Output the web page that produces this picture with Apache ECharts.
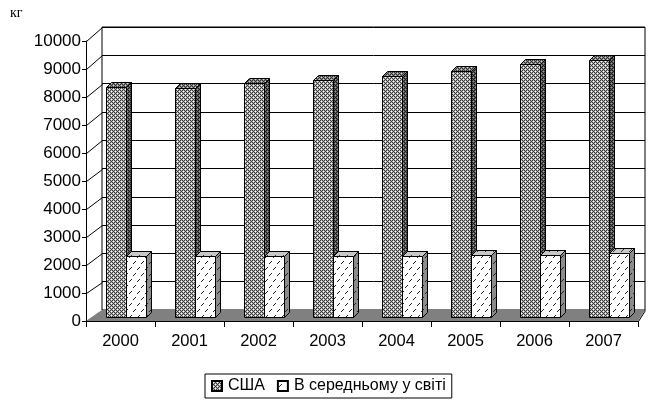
<!DOCTYPE html>
<html><head><meta charset="utf-8">
<script src="https://cdn.jsdelivr.net/npm/echarts@6/dist/echarts.min.js"></script>
<style>html,body{margin:0;padding:0;background:#fff}#c{width:648px;height:405px}</style>
</head><body><div id="c"></div>
<script>
// ---- data ----
const years = ['2000','2001','2002','2003','2004','2005','2006','2007'];
const usa   = [8200, 8170, 8370, 8480, 8590, 8800, 9050, 9180];
const world = [2190, 2190, 2190, 2190, 2190, 2200, 2230, 2270];
const seriesNames = ['США', 'В середньому у світі'];
const unitLabel = 'кг';
const yMin = 0, yMax = 10000, yStep = 1000;

// ---- patterns ----
function pat(w, h, draw) {
  const c = document.createElement('canvas'); c.width = w; c.height = h;
  const g = c.getContext('2d'); draw(g); return { image: c, repeat: 'repeat' };
}
function lattice(center, arm, dark) {
  return pat(4, 4, g => {
    g.fillStyle = dark; g.fillRect(0, 0, 4, 4);
    g.fillStyle = arm;
    [[0,1],[2,1],[1,0],[1,2],[2,3],[0,3],[3,2],[3,0]].forEach(p => g.fillRect(p[0], p[1], 1, 1));
    g.fillStyle = center; g.fillRect(1, 1, 1, 1); g.fillRect(3, 3, 1, 1);
  });
}
function slashes(bg, fg) {
  return pat(8, 12, g => {
    g.fillStyle = bg; g.fillRect(0, 0, 8, 12);
    g.fillStyle = fg;
    [[1,5],[2,4],[3,3],[5,11],[6,10],[7,9]].forEach(p => g.fillRect(p[0], p[1], 1, 1));
  });
}
const usaFront = lattice('#ffffff', '#b4b4b4', '#3a3a3a');
const usaSide  = lattice('#9a9a9a', '#606060', '#1a1a1a');
const usaTop   = lattice('#d0d0d0', '#8a8a8a', '#303030');
const wFront = slashes('#ffffff', '#222222');
const wSide  = slashes('#8c8c8c', '#222222');
const wTop   = slashes('#c8c8c8', '#333333');

// ---- layout ----
const FRONT = { left: 86, top: 41, right: 10, bottom: 84 };
const BACK  = { left: 102, top: 27, right: 3, bottom: 95 };

function barRenderer(side, fFront, fSide, fTop) {
  return function (params, api) {
    const x = api.value(0), v = api.value(1);
    const p0 = api.coord([x, 0]);
    const p1 = api.coord([x, v]);
    const band = api.size([1, 0])[0];
    const bw = Math.round(band * 0.29);
    const off = Math.round(band * 0.07), offy = -4;
    const ddx = 5, ddy = -5;
    const cx = Math.round(p0[0] + off) + 0.5;
    const xa = side < 0 ? cx - bw : cx, xb = xa + bw;
    const yb = Math.round(p0[1] + offy) + 0.5, yt = Math.round(p1[1] + offy) + 0.5;
    const st = (f) => ({ fill: f, stroke: '#000', lineWidth: 1 });
    return { type: 'group', children: [
      { type: 'polygon', shape: { points: [[xb, yt], [xb + ddx, yt + ddy], [xb + ddx, yb + ddy], [xb, yb]] }, style: st(fSide) },
      { type: 'polygon', shape: { points: [[xa, yt], [xb, yt], [xb + ddx, yt + ddy], [xa + ddx, yt + ddy]] }, style: st(fTop) },
      { type: 'polygon', shape: { points: [[xa, yt], [xb, yt], [xb, yb], [xa, yb]] }, style: st(fFront) }
    ]};
  };
}

const chart = echarts.init(document.getElementById('c'), null, { renderer: 'canvas' });
const font = 'Liberation Sans, Arial, sans-serif';
chart.setOption({
  animation: false,
  backgroundColor: '#fff',
  grid: [
    Object.assign({ containLabel: false }, FRONT),
    Object.assign({ containLabel: false, show: true, borderColor: '#000', borderWidth: 1, backgroundColor: 'transparent', z: 0 }, BACK)
  ],
  xAxis: [
    { type: 'category', data: years, gridIndex: 0, z: 5,
      axisLine: { show: true, lineStyle: { color: '#000', width: 1 } },
      axisTick: { show: true, length: 6, lineStyle: { color: '#000' } },
      axisLabel: { color: '#000', fontSize: 16.5, fontFamily: font, margin: 12 },
      splitLine: { show: false } },
    { type: 'value', gridIndex: 1, show: false, min: 0, max: 1 }
  ],
  yAxis: [
    { type: 'value', gridIndex: 0, min: yMin, max: yMax, interval: yStep, z: 5,
      axisLine: { show: true, lineStyle: { color: '#000', width: 1 } },
      axisTick: { show: true, length: 4, lineStyle: { color: '#000' } },
      axisLabel: { color: '#000', fontSize: 17, fontFamily: font, margin: 5, formatter: v => String(v) },
      splitLine: { show: false } },
    { type: 'value', gridIndex: 1, min: yMin, max: yMax, interval: yStep,
      axisLine: { show: false }, axisTick: { show: false }, axisLabel: { show: false },
      splitLine: { show: true, lineStyle: { color: '#000', width: 1 } } }
  ],
  legend: {
    data: seriesNames, bottom: 7, left: 205,
    borderColor: '#000', borderWidth: 1, padding: [4, 6, 4, 6],
    itemWidth: 10, itemHeight: 10, itemGap: 12,
    textStyle: { color: '#000', fontSize: 16, fontFamily: font, padding: [0, 0, 0, 1] },
    icon: 'rect'
  },
  series: [
    { name: seriesNames[0], type: 'custom', xAxisIndex: 0, yAxisIndex: 0, z: 3,
      itemStyle: { color: usaFront, borderColor: '#000', borderWidth: 1 },
      renderItem: barRenderer(-1, usaFront, usaSide, usaTop),
      encode: { x: 0, y: 1 },
      data: usa.map((v, i) => [i, v]) },
    { name: seriesNames[1], type: 'custom', xAxisIndex: 0, yAxisIndex: 0, z: 4,
      itemStyle: { color: wFront, borderColor: '#000', borderWidth: 1 },
      renderItem: barRenderer(1, wFront, wSide, wTop),
      encode: { x: 0, y: 1 },
      data: world.map((v, i) => [i, v]) }
  ]
});

// structural frame: floor & left wall, positioned via the axes
const g = [];
const W = 648, H = 405;
const fL = FRONT.left, fR = W - FRONT.right, bL = BACK.left, bR = W - BACK.right;
const yF0 = chart.convertToPixel({ yAxisIndex: 0 }, 0);
const yB0 = chart.convertToPixel({ yAxisIndex: 1 }, 0);
g.push({ type: 'polygon', z: 1, shape: { points: [[fL, yF0], [fR, yF0], [bR, yB0], [bL, yB0]] }, style: { fill: '#808080', stroke: null } });
g.push({ type: 'line', z: 6, shape: { x1: fR + 0.5, y1: yF0 + 0.5, x2: bR + 0.5, y2: yB0 + 0.5 }, style: { stroke: '#000', lineWidth: 1 } });
for (let v = yMin; v <= yMax; v += yStep) {
  const yf = chart.convertToPixel({ yAxisIndex: 0 }, v);
  const yb = chart.convertToPixel({ yAxisIndex: 1 }, v);
  g.push({ type: 'line', z: 2, shape: { x1: fL + 0.5, y1: Math.round(yf) + 0.5, x2: bL + 0.5, y2: Math.round(yb) + 0.5 }, style: { stroke: v === 0 ? '#808080' : '#000', lineWidth: 1 } });
}
g.push({ type: 'text', left: 10, top: 6, z: 5, style: { text: unitLabel, fill: '#000', font: '14px "Liberation Serif", "Times New Roman", serif' } });
chart.setOption({ graphic: g });
</script>
</body></html>
